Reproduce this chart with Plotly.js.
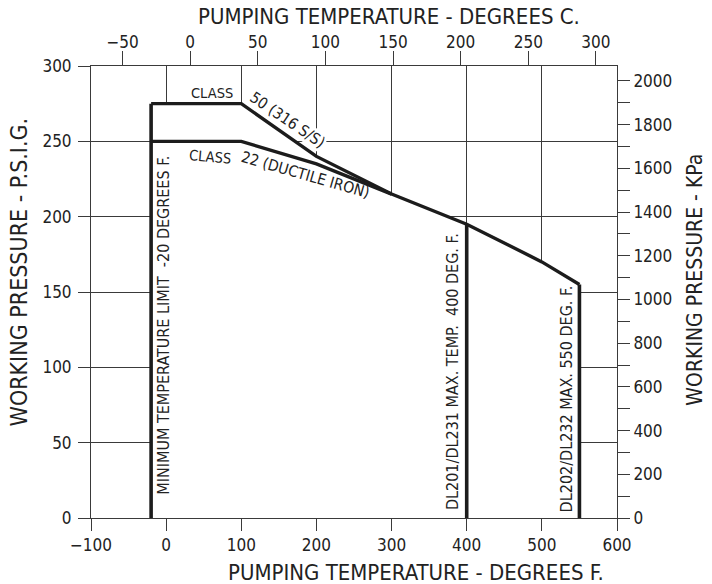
<!DOCTYPE html>
<html>
<head>
<meta charset="utf-8">
<script src="https://cdn.plot.ly/plotly-3.0.1.min.js"></script>
<style>
html,body{margin:0;padding:0;background:#fff;}
#chart text{font-stretch:condensed !important;}
</style>
</head>
<body>
<div id="chart" style="width:712px;height:584px;"></div>
<script>
// ---- data ----
const class50TempF = [-20, 100, 200, 300, 400, 500, 550];
const class50Psi   = [275, 275, 240, 215, 195, 170, 155];
const class22TempF = [-20, 100, 200, 300];
const class22Psi   = [250, 250, 235, 215];
const minTempF = -20;
const dl201MaxF = 400;
const dl202MaxF = 550;
const xTicksF = [-100, 0, 100, 200, 300, 400, 500, 600];
const yTicksPsi = [0, 50, 100, 150, 200, 250, 300];
const xTicksC = [-50, 0, 50, 100, 150, 200, 250, 300];
const yTicksKPa = [0, 200, 400, 600, 800, 1000, 1200, 1400, 1600, 1800, 2000];

const F_RANGE = [-100, 600];
const PSI_RANGE = [0, 300];
const f2c = f => (f - 32) * 5 / 9;
const PSI_TO_KPA = 6.894757;

function psiAt(t) {
  for (let i = 0; i < class50TempF.length - 1; i++) {
    const a = class50TempF[i], b = class50TempF[i + 1];
    if (t >= a && t <= b) {
      return class50Psi[i] + (class50Psi[i + 1] - class50Psi[i]) * (t - a) / (b - a);
    }
  }
  return 0;
}

const FONT = '"DejaVu Sans Condensed", "DejaVu Sans", sans-serif';
const TXT = '#222';
const LINE = '#1c1c1c';
const GRID = '#3a3a3a';

const traces = [
  // white area under the envelope hides the grid
  {
    x: [minTempF].concat(class50TempF, [dl202MaxF]),
    y: [0].concat(class50Psi, [0]),
    mode: 'lines', fill: 'toself', fillcolor: '#ffffff',
    line: {width: 0, color: 'rgba(0,0,0,0)'}, hoverinfo: 'skip', showlegend: false
  },
  {x: class50TempF, y: class50Psi, mode: 'lines', line: {color: LINE, width: 3.4}, showlegend: false},
  {x: class22TempF, y: class22Psi, mode: 'lines', line: {color: LINE, width: 3.4}, showlegend: false},
  {x: [minTempF, minTempF], y: [0, psiAt(minTempF)], mode: 'lines', line: {color: LINE, width: 3.6}, showlegend: false},
  {x: [dl201MaxF, dl201MaxF], y: [0, psiAt(dl201MaxF)], mode: 'lines', line: {color: LINE, width: 3.6}, showlegend: false},
  {x: [dl202MaxF, dl202MaxF], y: [0, psiAt(dl202MaxF)], mode: 'lines', line: {color: LINE, width: 3.6}, showlegend: false},
  // secondary axes carrier
  {x: [f2c(F_RANGE[0])], y: [0], xaxis: 'x2', yaxis: 'y2', mode: 'markers',
   marker: {opacity: 0}, hoverinfo: 'skip', showlegend: false}
];

const tickFont = {family: FONT, size: 17, color: TXT};
const lblFont = {family: FONT, size: 14.5, color: TXT};
const slopeFont = {family: FONT, size: 15.5, color: TXT};
const vertFont = {family: FONT, size: 16, color: TXT};
const titleFont = {family: FONT, size: 22, color: TXT};

function ann(text, x, y, angle, extra) {
  return Object.assign({text: text, x: x, y: y, textangle: angle || 0, showarrow: false,
    xanchor: 'center', yanchor: 'middle', font: lblFont}, extra || {});
}

const layout = {
  width: 712, height: 584,
  margin: {l: 91, r: 95, t: 66, b: 66},
  paper_bgcolor: '#fff', plot_bgcolor: '#fff',
  showlegend: false,
  xaxis: {
    range: F_RANGE, tickvals: xTicksF, ticks: 'outside', ticklen: 12, tickwidth: 1, tickcolor: GRID,
    showline: true, linecolor: GRID, linewidth: 1, showgrid: true, gridcolor: GRID, gridwidth: 1,
    zeroline: false, tickfont: tickFont, fixedrange: true
  },
  yaxis: {
    range: PSI_RANGE, tickvals: yTicksPsi, ticks: 'outside', ticklen: 12, tickwidth: 1, tickcolor: GRID,
    showline: true, linecolor: GRID, linewidth: 1, showgrid: true, gridcolor: GRID, gridwidth: 1,
    zeroline: false, tickfont: tickFont, fixedrange: true, ticklabelstandoff: 3
  },
  xaxis2: {
    overlaying: 'x', side: 'top', anchor: 'y',
    range: [f2c(F_RANGE[0]), f2c(F_RANGE[1])], tickvals: xTicksC,
    ticks: 'outside', ticklen: 14, tickwidth: 1, tickcolor: GRID,
    showline: true, linecolor: GRID, linewidth: 1, showgrid: false, zeroline: false,
    tickfont: tickFont, fixedrange: true, ticklabelstandoff: -4
  },
  yaxis2: {
    overlaying: 'y', side: 'right', anchor: 'x',
    range: [PSI_RANGE[0] * PSI_TO_KPA, PSI_RANGE[1] * PSI_TO_KPA], tickvals: yTicksKPa,
    ticks: 'outside', ticklen: 12, tickwidth: 1, tickcolor: GRID,
    minor: {dtick: 100, tick0: 0, ticks: 'outside', ticklen: 12, tickcolor: GRID, tickwidth: 1, showgrid: false},
    showline: true, linecolor: GRID, linewidth: 1, showgrid: false, zeroline: false,
    tickfont: tickFont, fixedrange: true
  },
  annotations: [
    ann('PUMPING TEMPERATURE - DEGREES C.', 0.567, 1.110, 0, {xref: 'paper', yref: 'paper', font: titleFont}),
    ann('PUMPING TEMPERATURE - DEGREES F.', 0.617, -0.120, 0, {xref: 'paper', yref: 'paper', font: titleFont}),
    ann('WORKING PRESSURE - P.S.I.G.', -0.136, 0.544, -90, {xref: 'paper', yref: 'paper',
      font: Object.assign({}, titleFont, {size: 23})}),
    ann('WORKING PRESSURE - KPa', 1.148, 0.527, -90, {xref: 'paper', yref: 'paper',
      font: Object.assign({}, titleFont, {size: 21})}),

    ann('CLASS', 92, 282, 0, {xanchor: 'right'}),
    ann('50 (316 S/S)', 161, 264, 34, {bgcolor: '#fff', borderpad: 0, font: slopeFont}),
    ann('CLASS', 59, 239.6, 5),
    ann('22 (DUCTILE IRON)', 185, 227.5, 16, {font: slopeFont}),

    ann('MINIMUM TEMPERATURE LIMIT  -20 DEGREES F.', -3.5, 128, -90, {font: vertFont}),
    ann('DL201/DL231 MAX. TEMP.  400 DEG. F.', 382, 97, -90, {font: vertFont}),
    ann('DL202/DL232 MAX. 550 DEG. F.', 534, 79, -90, {font: vertFont})
  ]
};

Plotly.newPlot('chart', traces, layout, {staticPlot: true, displayModeBar: false});
</script>
</body>
</html>
